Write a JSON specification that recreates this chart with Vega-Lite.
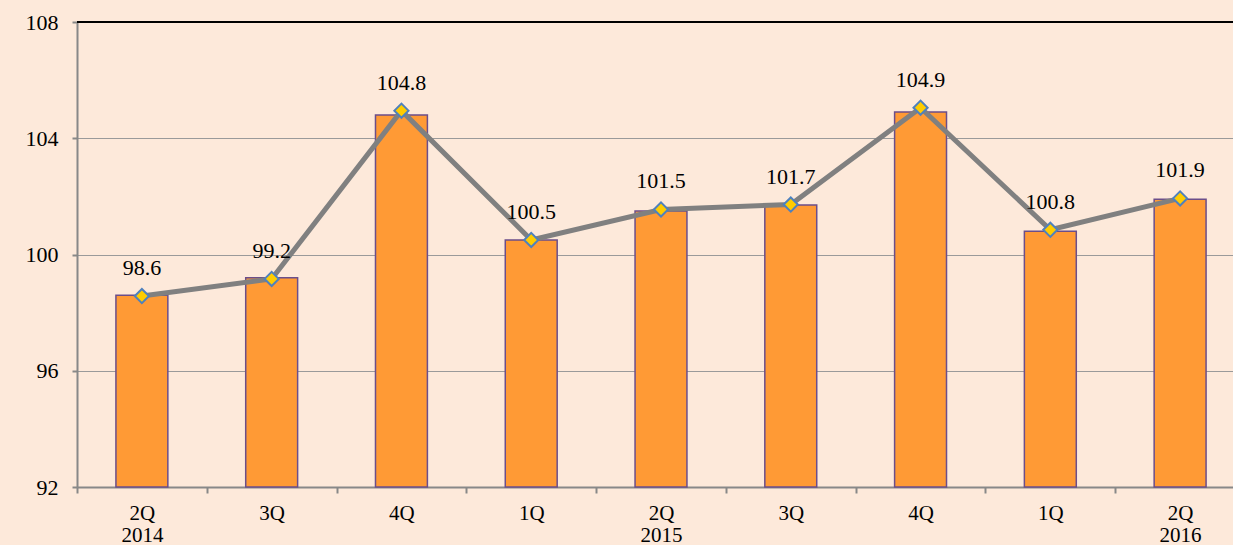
{
  "$schema": "https://vega.github.io/schema/vega-lite/v6.json",
  "width": 1168,
  "height": 465,
  "autosize": {"type": "none"},
  "padding": {"left": 77, "top": 22, "right": 0, "bottom": 58},
  "background": "#FDE9DA",
  "config": {
    "view": {"stroke": null},
    "font": "Times New Roman, Liberation Serif, serif",
    "text": {"font": "Times New Roman, Liberation Serif, serif"},
    "axis": {"labelFont": "Times New Roman, Liberation Serif, serif", "labelColor": "#000000"}
  },
  "data": {
    "values": [
      {"period": "2Q 2014", "bar": 98.6, "line": 98.57, "label": "98.6"},
      {"period": "3Q 2014", "bar": 99.2, "line": 99.16, "label": "99.2"},
      {"period": "4Q 2014", "bar": 104.8, "line": 104.95, "label": "104.8"},
      {"period": "1Q 2015", "bar": 100.5, "line": 100.5, "label": "100.5"},
      {"period": "2Q 2015", "bar": 101.5, "line": 101.55, "label": "101.5"},
      {"period": "3Q 2015", "bar": 101.7, "line": 101.72, "label": "101.7"},
      {"period": "4Q 2015", "bar": 104.9, "line": 105.05, "label": "104.9"},
      {"period": "1Q 2016", "bar": 100.8, "line": 100.85, "label": "100.8"},
      {"period": "2Q 2016", "bar": 101.9, "line": 101.93, "label": "101.9"}
    ]
  },
  "layer": [
    {
      "mark": {"type": "bar", "color": "#FF9A35", "stroke": "#6B4E8A", "strokeWidth": 1.5, "width": {"band": 0.4}},
      "encoding": {
        "x": {
          "field": "period",
          "type": "nominal",
          "sort": null,
          "scale": {"paddingInner": 0, "paddingOuter": 0},
          "axis": {
            "title": null,
            "labelAngle": 0,
            "labelFontSize": 21,
            "labelPadding": 9,
            "labelLineHeight": 22,
            "labelBaseline": "top",
            "tickBand": "extent",
            "tickSize": 6,
            "tickColor": "#888888",
            "tickWidth": 2,
            "domainColor": "#888888",
            "domainWidth": 2,
            "grid": false,
            "labelExpr": "indexof(['2Q 2014','2Q 2015','2Q 2016'], datum.label) >= 0 ? split(datum.label, ' ') : split(datum.label, ' ')[0]"
          }
        },
        "y": {
          "field": "bar",
          "type": "quantitative",
          "scale": {"domain": [92, 108], "nice": false, "zero": false},
          "axis": {
            "title": null,
            "values": [92, 96, 100, 104, 108],
            "labelFontSize": 22,
            "labelPadding": 14,
            "tickSize": 5,
            "tickColor": "#888888",
            "tickWidth": 2,
            "domainColor": "#888888",
            "domainWidth": 2,
            "grid": true,
            "gridColor": "#9A9A9A",
            "gridWidth": 1
          }
        },
        "y2": {"datum": 92}
      }
    },
    {
      "mark": {"type": "rule", "color": "#000000", "strokeWidth": 2},
      "encoding": {"y": {"datum": 108, "type": "quantitative"}}
    },
    {
      "mark": {"type": "line", "color": "#808080", "strokeWidth": 5},
      "encoding": {
        "x": {"field": "period", "type": "nominal", "sort": null},
        "y": {"field": "line", "type": "quantitative"}
      }
    },
    {
      "mark": {"type": "point", "shape": "diamond", "filled": true, "fill": "#FFCC00", "stroke": "#4F81BD", "strokeWidth": 2, "size": 200, "opacity": 1},
      "encoding": {
        "x": {"field": "period", "type": "nominal", "sort": null},
        "y": {"field": "line", "type": "quantitative"}
      }
    },
    {
      "mark": {"type": "text", "dy": -28, "fontSize": 22, "baseline": "middle", "color": "#000000"},
      "encoding": {
        "x": {"field": "period", "type": "nominal", "sort": null},
        "y": {"field": "line", "type": "quantitative"},
        "text": {"field": "label"}
      }
    }
  ]
}
